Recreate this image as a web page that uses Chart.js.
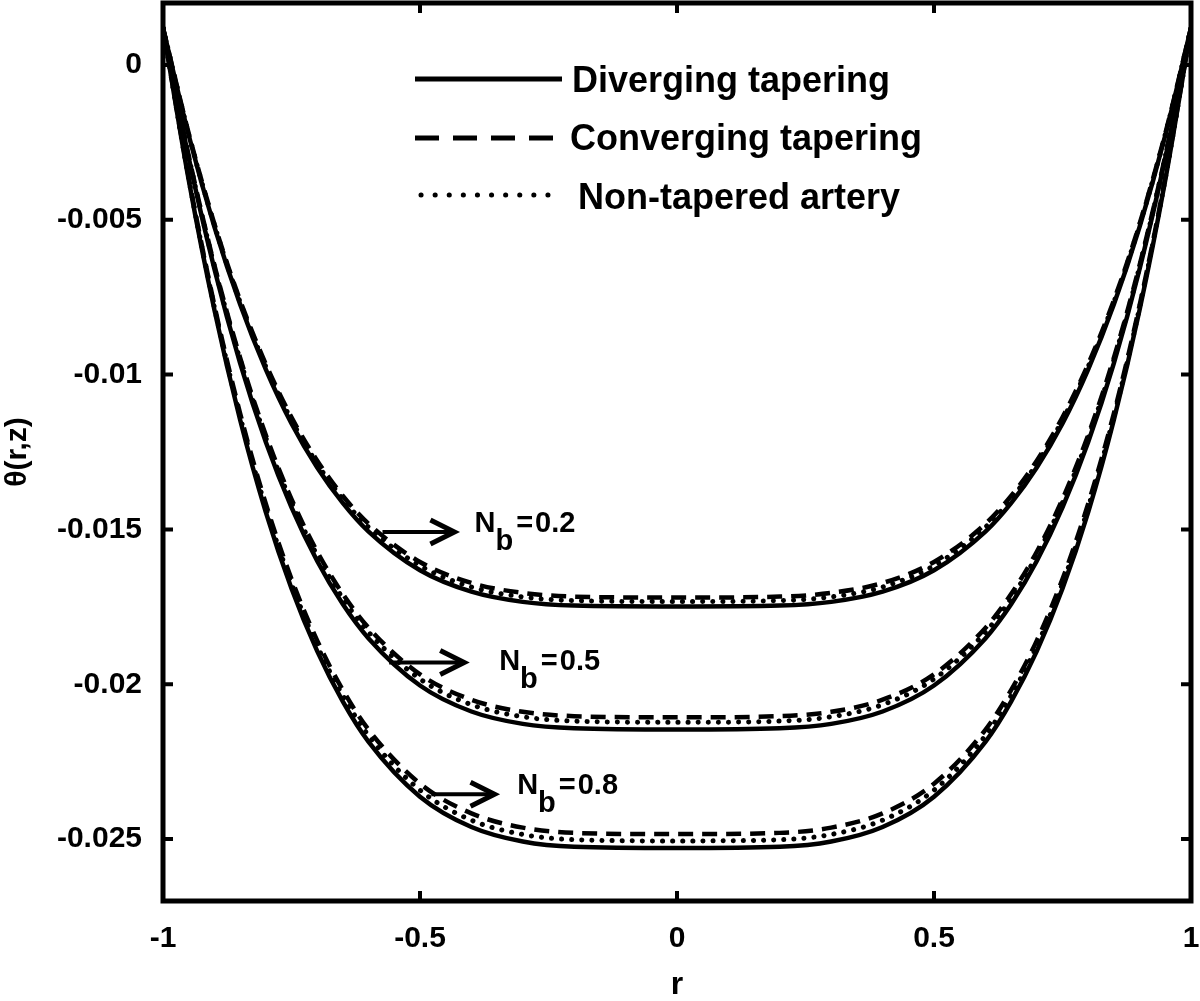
<!DOCTYPE html>
<html>
<head>
<meta charset="utf-8">
<script src="https://cdn.jsdelivr.net/npm/chart.js@4"></script>
<style>
  body { margin: 0; background: #fff; }
  #wrap { width: 1200px; height: 1001px; }
</style>
</head>
<body>
<div id="wrap"><canvas id="thetaChart" width="1200" height="1001"></canvas></div>
<script>
// radial positions r
const rValues = [-1, -0.95, -0.9, -0.85, -0.8, -0.75, -0.7, -0.65, -0.6, -0.5, -0.4, -0.3, -0.2, 0,
  0.2, 0.3, 0.4, 0.5, 0.6, 0.65, 0.7, 0.75, 0.8, 0.85, 0.9, 0.95, 1];

// Nb = 0.2
const div02 = [0.0012, -0.00227, -0.00523, -0.00773, -0.00983, -0.01158, -0.013, -0.01415, -0.01507, -0.01632, -0.01701, -0.01734, -0.01746, -0.01749,
  -0.01746, -0.01734, -0.01701, -0.01632, -0.01507, -0.01415, -0.013, -0.01158, -0.00983, -0.00773, -0.00523, -0.00227, 0.0012];
const conv02 = [0.0012, -0.00221, -0.00513, -0.0076, -0.00966, -0.01138, -0.01278, -0.01392, -0.01482, -0.01605, -0.01673, -0.01705, -0.01717, -0.0172,
  -0.01717, -0.01705, -0.01673, -0.01605, -0.01482, -0.01392, -0.01278, -0.01138, -0.00966, -0.0076, -0.00513, -0.00221, 0.0012];
const non02 = [0.0012, -0.00224, -0.00517, -0.00766, -0.00974, -0.01147, -0.01288, -0.01402, -0.01493, -0.01617, -0.01686, -0.01718, -0.0173, -0.01733,
  -0.0173, -0.01718, -0.01686, -0.01617, -0.01493, -0.01402, -0.01288, -0.01147, -0.00974, -0.00766, -0.00517, -0.00224, 0.0012];

// Nb = 0.5
const div05 = [0.0012, -0.003, -0.00659, -0.00963, -0.01218, -0.01429, -0.01602, -0.01742, -0.01852, -0.02004, -0.02088, -0.02128, -0.02142, -0.02146,
  -0.02142, -0.02128, -0.02088, -0.02004, -0.01852, -0.01742, -0.01602, -0.01429, -0.01218, -0.00963, -0.00659, -0.003, 0.0012];
const conv05 = [0.0012, -0.00293, -0.00646, -0.00945, -0.01195, -0.01402, -0.01572, -0.01709, -0.01818, -0.01968, -0.0205, -0.02089, -0.02103, -0.02107,
  -0.02103, -0.02089, -0.0205, -0.01968, -0.01818, -0.01709, -0.01572, -0.01402, -0.01195, -0.00945, -0.00646, -0.00293, 0.0012];
const non05 = [0.0012, -0.00296, -0.00651, -0.00952, -0.01204, -0.01413, -0.01584, -0.01723, -0.01832, -0.01983, -0.02066, -0.02105, -0.02119, -0.02123,
  -0.02119, -0.02105, -0.02066, -0.01983, -0.01832, -0.01723, -0.01584, -0.01413, -0.01204, -0.00952, -0.00651, -0.00296, 0.0012];

// Nb = 0.8
const div08 = [0.0012, -0.00371, -0.00791, -0.01146, -0.01444, -0.01691, -0.01893, -0.02056, -0.02186, -0.02363, -0.02461, -0.02508, -0.02525, -0.02529,
  -0.02525, -0.02508, -0.02461, -0.02363, -0.02186, -0.02056, -0.01893, -0.01691, -0.01444, -0.01146, -0.00791, -0.00371, 0.0012];
const conv08 = [0.0012, -0.00363, -0.00776, -0.01125, -0.01417, -0.0166, -0.01859, -0.02019, -0.02147, -0.02321, -0.02417, -0.02463, -0.0248, -0.02484,
  -0.0248, -0.02463, -0.02417, -0.02321, -0.02147, -0.02019, -0.01859, -0.0166, -0.01417, -0.01125, -0.00776, -0.00363, 0.0012];
const non08 = [0.0012, -0.00367, -0.00783, -0.01135, -0.0143, -0.01675, -0.01876, -0.02037, -0.02166, -0.02342, -0.02439, -0.02485, -0.02502, -0.02506,
  -0.02502, -0.02485, -0.02439, -0.02342, -0.02166, -0.02037, -0.01876, -0.01675, -0.0143, -0.01135, -0.00783, -0.00367, 0.0012];

const legendLabels = ["Diverging tapering", "Converging tapering", "Non-tapered artery"];
const nbLabels = ["0.2", "0.5", "0.8"];

const xTickValues = [-1, -0.5, 0, 0.5, 1];
const xTickLabels = ["-1", "-0.5", "0", "0.5", "1"];
const yTickValues = [-0.025, -0.02, -0.015, -0.01, -0.005, 0];
const yTickLabels = ["-0.025", "-0.02", "-0.015", "-0.01", "-0.005", "0"];

const FONT = "'Liberation Sans', Arial, sans-serif";
const DASHED = [15, 9];
const DOTTED = [0.1, 10];

function toPoints(values) {
  return rValues.map((r, i) => ({ x: r, y: values[i] }));
}

function lineSet(values, dash) {
  return {
    data: toPoints(values),
    borderColor: "#000",
    borderWidth: dash === DOTTED ? 5 : 4.5,
    borderDash: dash,
    borderCapStyle: dash === DOTTED ? "round" : "butt",
    pointRadius: 0,
    cubicInterpolationMode: "monotone",
    fill: false,
  };
}

// frame, inward ticks on all four sides, legend and Nb arrows
const decorations = {
  id: "decorations",
  afterDraw(chart) {
    const ctx = chart.ctx;
    const a = chart.chartArea;
    const xs = chart.scales.x;
    const ys = chart.scales.y;
    ctx.save();
    ctx.strokeStyle = "#000";
    ctx.fillStyle = "#000";

    // ticks
    ctx.lineWidth = 4;
    ctx.setLineDash([]);
    ctx.beginPath();
    xTickValues.forEach((v) => {
      const px = xs.getPixelForValue(v);
      ctx.moveTo(px, a.bottom);
      ctx.lineTo(px, a.bottom - 10);
      ctx.moveTo(px, a.top);
      ctx.lineTo(px, a.top + 10);
    });
    yTickValues.forEach((v) => {
      const py = ys.getPixelForValue(v);
      ctx.moveTo(a.left, py);
      ctx.lineTo(a.left + 10, py);
      ctx.moveTo(a.right, py);
      ctx.lineTo(a.right - 10, py);
    });
    ctx.stroke();

    // frame
    ctx.lineWidth = 5;
    ctx.strokeRect(a.left, a.top, a.right - a.left, a.bottom - a.top);

    // legend
    const rows = [
      { dash: [], cap: "butt", x0: 415, x1: 562, y: 79, tx: 572, ty: 82 },
      { dash: [24, 14], cap: "butt", x0: 415, x1: 556, y: 138, tx: 570, ty: 140 },
      { dash: [0.1, 14], cap: "round", x0: 421, x1: 550, y: 195, tx: 578, ty: 199 },
    ];
    ctx.font = "bold 36px " + FONT;
    ctx.textBaseline = "middle";
    rows.forEach((row, i) => {
      ctx.lineWidth = 5;
      ctx.lineCap = row.cap;
      ctx.setLineDash(row.dash);
      ctx.beginPath();
      ctx.moveTo(row.x0, row.y);
      ctx.lineTo(row.x1, row.y);
      ctx.stroke();
      ctx.fillText(legendLabels[i], row.tx, row.ty);
    });

    // Nb arrows, placed in data coordinates
    const notes = [
      { r0: -0.573, r1: -0.433, th: -0.01508, tr: -0.394, tth: -0.01482 },
      { r0: -0.56, r1: -0.414, th: -0.0193, tr: -0.346, tth: -0.01927 },
      { r0: -0.478, r1: -0.355, th: -0.02355, tr: -0.311, tth: -0.02329 },
    ];
    ctx.setLineDash([]);
    ctx.lineCap = "butt";
    notes.forEach((n, i) => {
      const x0 = xs.getPixelForValue(n.r0);
      const x1 = xs.getPixelForValue(n.r1);
      const y = ys.getPixelForValue(n.th);
      ctx.lineWidth = 4;
      ctx.beginPath();
      ctx.moveTo(x0, y);
      ctx.lineTo(x1 - 2, y);
      ctx.stroke();
      ctx.beginPath();
      ctx.moveTo(x1 - 24, y - 12);
      ctx.lineTo(x1, y);
      ctx.lineTo(x1 - 24, y + 12);
      ctx.lineWidth = 5;
      ctx.stroke();

      let tx = xs.getPixelForValue(n.tr);
      const ty = ys.getPixelForValue(n.tth);
      ctx.font = "bold 29px " + FONT;
      ctx.textBaseline = "middle";
      ctx.fillText("N", tx, ty);
      tx += ctx.measureText("N").width;
      ctx.fillText("b", tx, ty + 18);
      tx += ctx.measureText("b").width + 3;
      ctx.fillText("=", tx, ty);
      tx += ctx.measureText("=").width + 2;
      ctx.fillText(nbLabels[i], tx, ty);
    });
    ctx.restore();
  },
};

const ctx = document.getElementById("thetaChart").getContext("2d");
const thetaChart = new Chart(ctx, {
  type: "line",
  data: {
    datasets: [
      lineSet(non02, DOTTED),
      lineSet(non05, DOTTED),
      lineSet(non08, DOTTED),
      lineSet(conv02, DASHED),
      lineSet(conv05, DASHED),
      lineSet(conv08, DASHED),
      lineSet(div02, []),
      lineSet(div05, []),
      lineSet(div08, []),
    ],
  },
  options: {
    responsive: false,
    animation: false,
    devicePixelRatio: 1,
    layout: { padding: { top: 3, right: 9, left: 0, bottom: 0 } },
    plugins: { legend: { display: false }, tooltip: { enabled: false } },
    scales: {
      x: {
        type: "linear",
        min: -1,
        max: 1,
        afterFit: (s) => {
          s.height = 100;
          s.paddingLeft = 0;
          s.paddingRight = 0;
        },
        afterBuildTicks: (s) => { s.ticks = xTickValues.map((v) => ({ value: v })); },
        grid: { display: false },
        border: { display: false },
        ticks: {
          padding: 12,
          color: "#000",
          font: { family: FONT, size: 30, weight: "bold" },
          callback: (v) => xTickLabels[xTickValues.indexOf(v)],
        },
        title: {
          display: true,
          text: "r",
          color: "#000",
          padding: { top: 2, bottom: -3 },
          font: { family: FONT, size: 32, weight: "bold" },
        },
      },
      y: {
        type: "linear",
        min: -0.027,
        max: 0.002,
        afterFit: (s) => {
          s.width = 163;
          s.paddingTop = 0;
          s.paddingBottom = 0;
        },
        afterBuildTicks: (s) => { s.ticks = yTickValues.map((v) => ({ value: v })); },
        grid: { display: false },
        border: { display: false },
        ticks: {
          padding: 13,
          color: "#000",
          font: { family: FONT, size: 30, weight: "bold" },
          callback: (v) => yTickLabels[yTickValues.indexOf(v)],
        },
        title: {
          display: true,
          text: "θ(r,z)",
          color: "#000",
          padding: { top: 0, bottom: 0 },
          font: { family: FONT, size: 30, weight: "bold" },
        },
      },
    },
  },
  plugins: [decorations],
});
</script>
</body>
</html>
